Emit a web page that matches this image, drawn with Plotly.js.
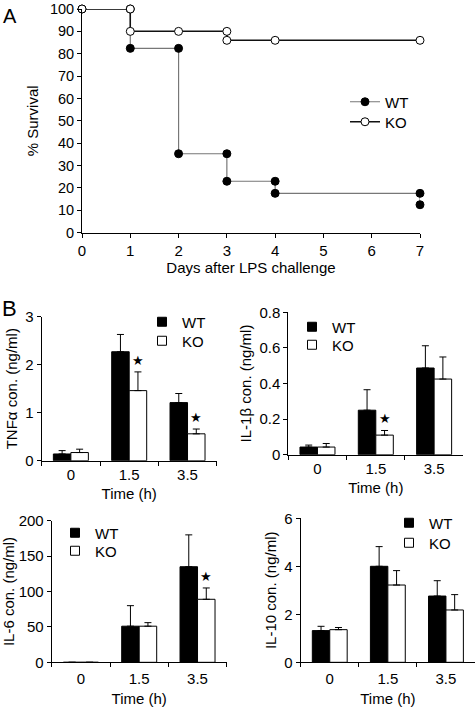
<!DOCTYPE html>
<html>
<head>
<meta charset="utf-8">
<script src="https://cdn.plot.ly/plotly-3.0.1.min.js"></script>
<style>html,body{margin:0;padding:0;background:#fff;}#chart{width:475px;height:711px;}</style>
</head>
<body>
<div id="chart"></div>
<script>
// ---------- Panel A: survival ----------
const wtDays = [0, 1, 1, 2, 2, 3, 3, 4, 4, 7, 7];
const wtSurvival = [100, 100, 82.4, 82.4, 35.3, 35.3, 23, 23, 17.6, 17.6, 12.5];
const koDays = [0, 1, 1, 2, 3, 3, 4, 7];
const koSurvival = [100, 100, 90, 90, 90, 86, 86, 86];
const survivalTicks = [0, 10, 20, 30, 40, 50, 60, 70, 80, 90, 100];
const dayTicks = [0, 1, 2, 3, 4, 5, 6, 7];

// ---------- Panel B: cytokines ----------
const timeCats = ['0', '1.5', '3.5'];
const tnfWT = [0.14, 2.27, 1.21];
const tnfWTerr = [0.07, 0.36, 0.19];
const tnfKO = [0.17, 1.46, 0.56];
const tnfKOerr = [0.07, 0.39, 0.10];
const tnfStar = [false, true, true];

const il1WT = [0.043, 0.25, 0.487];
const il1WTerr = [0.011, 0.115, 0.125];
const il1KO = [0.043, 0.11, 0.425];
const il1KOerr = [0.02, 0.026, 0.124];
const il1Star = [false, true, false];

const il6WT = [0, 51, 135];
const il6WTerr = [0, 29, 45];
const il6KO = [0, 51, 89];
const il6KOerr = [0, 5, 16];
const il6Star = [false, false, true];

const il10WT = [1.32, 4.0, 2.76];
const il10WTerr = [0.18, 0.82, 0.64];
const il10KO = [1.36, 3.22, 2.18];
const il10KOerr = [0.09, 0.6, 0.64];
const il10Star = [false, false, false];

const FONT = 'Liberation Sans, Arial, sans-serif';
const zeros = n => new Array(n).fill(0);

const traces = [];

// Panel A traces
traces.push({
  x: wtDays, y: wtSurvival, type: 'scatter', mode: 'lines+markers', name: 'WT',
  line: {color: '#777', width: 1.2, shape: 'linear'},
  marker: {color: '#000', size: 8, line: {color: '#000', width: 1}},
  xaxis: 'x', yaxis: 'y', legend: 'legend', cliponaxis: false
});
traces.push({
  x: koDays, y: koSurvival, type: 'scatter', mode: 'lines+markers', name: 'KO',
  line: {color: '#111', width: 1.5, shape: 'hv'},
  marker: {color: '#fff', size: 8, line: {color: '#000', width: 1}},
  xaxis: 'x', yaxis: 'y', legend: 'legend2', cliponaxis: false
});

const panels = [
  {wt: tnfWT, wte: tnfWTerr, ko: tnfKO, koe: tnfKOerr, star: tnfStar, ax: '2', legs: ['legend3', 'legend4']},
  {wt: il1WT, wte: il1WTerr, ko: il1KO, koe: il1KOerr, star: il1Star, ax: '3', legs: ['legend5', 'legend6']},
  {wt: il6WT, wte: il6WTerr, ko: il6KO, koe: il6KOerr, star: il6Star, ax: '4', legs: ['legend7', 'legend8']},
  {wt: il10WT, wte: il10WTerr, ko: il10KO, koe: il10KOerr, star: il10Star, ax: '5', legs: ['legend9', 'legend10']}
];

const annotations = [];
panels.forEach(p => {
  const xa = 'x' + p.ax, ya = 'y' + p.ax;
  traces.push({
    x: timeCats, y: p.wt, type: 'bar', name: 'WT', showlegend: false,
    marker: {color: '#000', line: {color: '#000', width: 1}},
    error_y: {type: 'data', array: p.wte, arrayminus: zeros(p.wte.length), symmetric: false, color: '#000', thickness: 1, width: 3.5},
    xaxis: xa, yaxis: ya
  });
  traces.push({
    x: timeCats, y: p.ko, type: 'bar', name: 'KO', showlegend: false,
    marker: {color: '#fff', line: {color: '#000', width: 1}},
    error_y: {type: 'data', array: p.koe, arrayminus: zeros(p.koe.length), symmetric: false, color: '#000', thickness: 1, width: 3.5},
    xaxis: xa, yaxis: ya
  });
  // legend entries (square swatches), parked on the numeric axes of panel A with no data
  traces.push({
    x: [null], y: [null], type: 'scatter', mode: 'markers', name: 'WT',
    marker: {symbol: 'square', size: 9, color: '#000', line: {color: '#000', width: 1}},
    xaxis: 'x', yaxis: 'y', legend: p.legs[0], hoverinfo: 'skip'
  });
  traces.push({
    x: [null], y: [null], type: 'scatter', mode: 'markers', name: 'KO',
    marker: {symbol: 'square', size: 9, color: '#fff', line: {color: '#000', width: 1}},
    xaxis: 'x', yaxis: 'y', legend: p.legs[1], hoverinfo: 'skip'
  });
  p.star.forEach((s, i) => {
    if (s) {
      annotations.push({
        xref: xa, yref: ya, x: i, y: p.ko[i] + p.koe[i],
        text: '★', showarrow: false, xanchor: 'center', yanchor: 'bottom',
        xshift: 8.75, yshift: 2, font: {family: 'DejaVu Sans', size: 13, color: '#000'}
      });
    }
  });
});

annotations.push({xref: 'paper', yref: 'paper', x: 1 / 475, y: 1 - 3 / 711, text: 'A', showarrow: false,
  xanchor: 'left', yanchor: 'top', font: {family: FONT, size: 20, color: '#000'}});
annotations.push({xref: 'paper', yref: 'paper', x: 0, y: 1 - 294 / 711, text: 'B', showarrow: false,
  xanchor: 'left', yanchor: 'top', font: {family: FONT, size: 22, color: '#000'}});

const tickFont = {family: FONT, size: 15, color: '#000'};
const titleFont = {family: FONT, size: 15, color: '#000'};

function catX(domain, anchor, labelPad, titlePad) {
  return {
    domain: domain, anchor: anchor, type: 'category', categoryorder: 'array', categoryarray: timeCats,
    range: [-0.5, 2.5],
    showline: true, linecolor: '#000', linewidth: 1, ticks: 'outside', ticklen: 4, tickcolor: '#000',
    tickson: 'boundaries', showgrid: false, zeroline: false, tickfont: tickFont, ticklabelstandoff: labelPad,
    title: {text: 'Time (h)', font: titleFont, standoff: titlePad}, fixedrange: true
  };
}
function valY(domain, anchor, range, dtick, title) {
  return {
    domain: domain, anchor: anchor, range: range, dtick: dtick, tick0: 0,
    showline: true, linecolor: '#000', linewidth: 1, ticks: 'outside', ticklen: 4, tickcolor: '#000',
    showgrid: false, zeroline: false, tickfont: tickFont, ticklabeloverflow: 'allow',
    title: {text: title, font: titleFont, standoff: 4}, fixedrange: true
  };
}
function legendAt(xPx, yPx) {
  return {x: xPx / 475, y: 1 - yPx / 711, xanchor: 'left', yanchor: 'middle', bgcolor: 'rgba(0,0,0,0)',
    font: {family: FONT, size: 15, color: '#000'}, itemwidth: 30};
}

const layout = {
  width: 475, height: 711,
  margin: {l: 0, r: 0, t: 0, b: 0},
  paper_bgcolor: '#fff', plot_bgcolor: '#fff',
  showlegend: true,
  barmode: 'group', bargap: 0.4, bargroupgap: 0,
  xaxis: {
    domain: [82 / 475, 420 / 475], anchor: 'y', range: [0, 7], tickvals: dayTicks,
    showline: true, linecolor: '#000', linewidth: 1, ticks: 'outside', ticklen: 4, tickcolor: '#000',
    showgrid: false, zeroline: false, tickfont: tickFont, ticklabeloverflow: 'allow',
    title: {text: 'Days after LPS challenge', font: titleFont, standoff: 4}, fixedrange: true
  },
  yaxis: {
    domain: [1 - 232.7 / 711, 1 - 9 / 711], anchor: 'x', range: [0, 100], tickvals: survivalTicks,
    showline: true, linecolor: '#000', linewidth: 1, ticks: 'outside', ticklen: 4, tickcolor: '#000',
    showgrid: false, zeroline: false, tickfont: {family: FONT, size: 14.5, color: '#000'}, ticklabeloverflow: 'allow',
    title: {text: '% Survival', font: titleFont, standoff: 7}, fixedrange: true
  },
  xaxis2: catX([41.7 / 475, 216.7 / 475], 'y2', 0, 6),
  yaxis2: valY([1 - 460.7 / 711, 1 - 316.7 / 711], 'x2', [0, 3], 1, 'TNFα con. (ng/ml)'),
  xaxis3: catX([288.3 / 475, 463.3 / 475], 'y3', 0, 6),
  yaxis3: valY([1 - 454.7 / 711, 1 - 312.3 / 711], 'x3', [0, 0.8], 0.2, 'IL-1β con. (ng/ml)'),
  xaxis4: catX([51.7 / 475, 226.7 / 475], 'y4', 3, 7),
  yaxis4: valY([1 - 662.3 / 711, 1 - 520.7 / 711], 'x4', [0, 200], 50, 'IL-6 con. (ng/ml)'),
  xaxis5: catX([300.7 / 475, 1], 'y5', 3, 7),
  yaxis5: valY([1 - 662.3 / 711, 1 - 518.3 / 711], 'x5', [0, 6], 2, 'IL-10 con. (ng/ml)'),
  legend: legendAt(345, 102),
  legend2: legendAt(345, 122),
  legend3: legendAt(142, 322),
  legend4: legendAt(142, 341),
  legend5: legendAt(292, 327),
  legend6: legendAt(292, 345),
  legend7: legendAt(55, 533),
  legend8: legendAt(55, 551),
  legend9: legendAt(389, 523),
  legend10: legendAt(389, 543),
  annotations: annotations
};

Plotly.newPlot('chart', traces, layout, {staticPlot: true, displayModeBar: false});
</script>
</body>
</html>
